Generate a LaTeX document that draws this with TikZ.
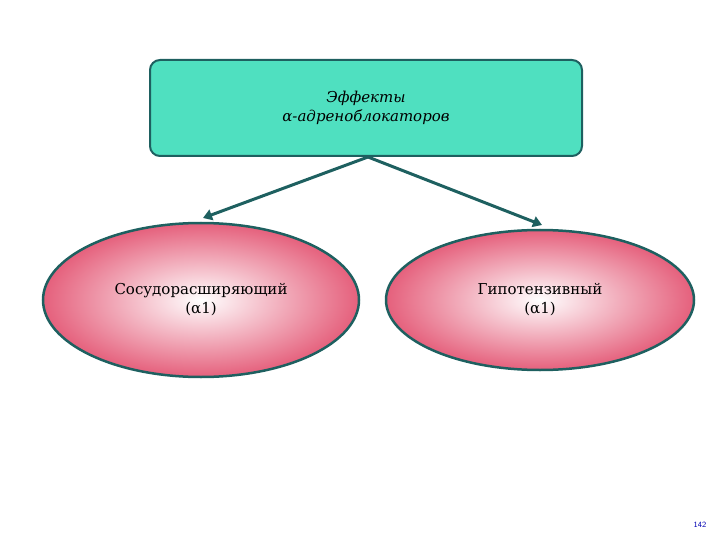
\documentclass[tikz,border=0pt]{standalone}
\usepackage{fontspec}
\setmainfont{DejaVu Serif}
\usetikzlibrary{shapes.geometric,arrows.meta}
\definecolor{edge}{HTML}{1E6060}
\definecolor{teal}{HTML}{4FE0C0}
\definecolor{pink}{HTML}{E5607C}
\tikzset{
 topbox/.style={draw=edge,line width=2pt,fill=teal,rounded corners=10pt,minimum width=432pt,minimum height=96pt,align=center,font=\fontsize{15}{19}\selectfont\itshape},
 oval/.style={ellipse,draw=edge,line width=2.5pt,inner color=white,outer color=pink,align=center,font=\fontsize{15}{19}\selectfont},
 conn/.style={draw=edge,line width=3pt,-{Triangle[length=9pt,width=11pt]}}
}
\begin{document}
\begin{tikzpicture}[x=1pt,y=-1pt]
\useasboundingbox (0,0) rectangle (720,540);
\node[topbox] (top) at (366,108) {Эффекты\\ α-адреноблокаторов};
\node[oval,minimum width=316pt,minimum height=154pt] (l) at (201,300) {Сосудорасширяющий\\ (α1)};
\node[oval,minimum width=308pt,minimum height=140pt] (r) at (540,300) {Гипотензивный\\ (α1)};
\coordinate (s) at (368,157);
\draw[conn] (s) -- (203,218);
\draw[conn] (s) -- (542,225);
\node[text=blue!70!black,font=\fontsize{8}{10}\selectfont\sffamily] (pg) at (700,525) {142};
\end{tikzpicture}
\end{document}
